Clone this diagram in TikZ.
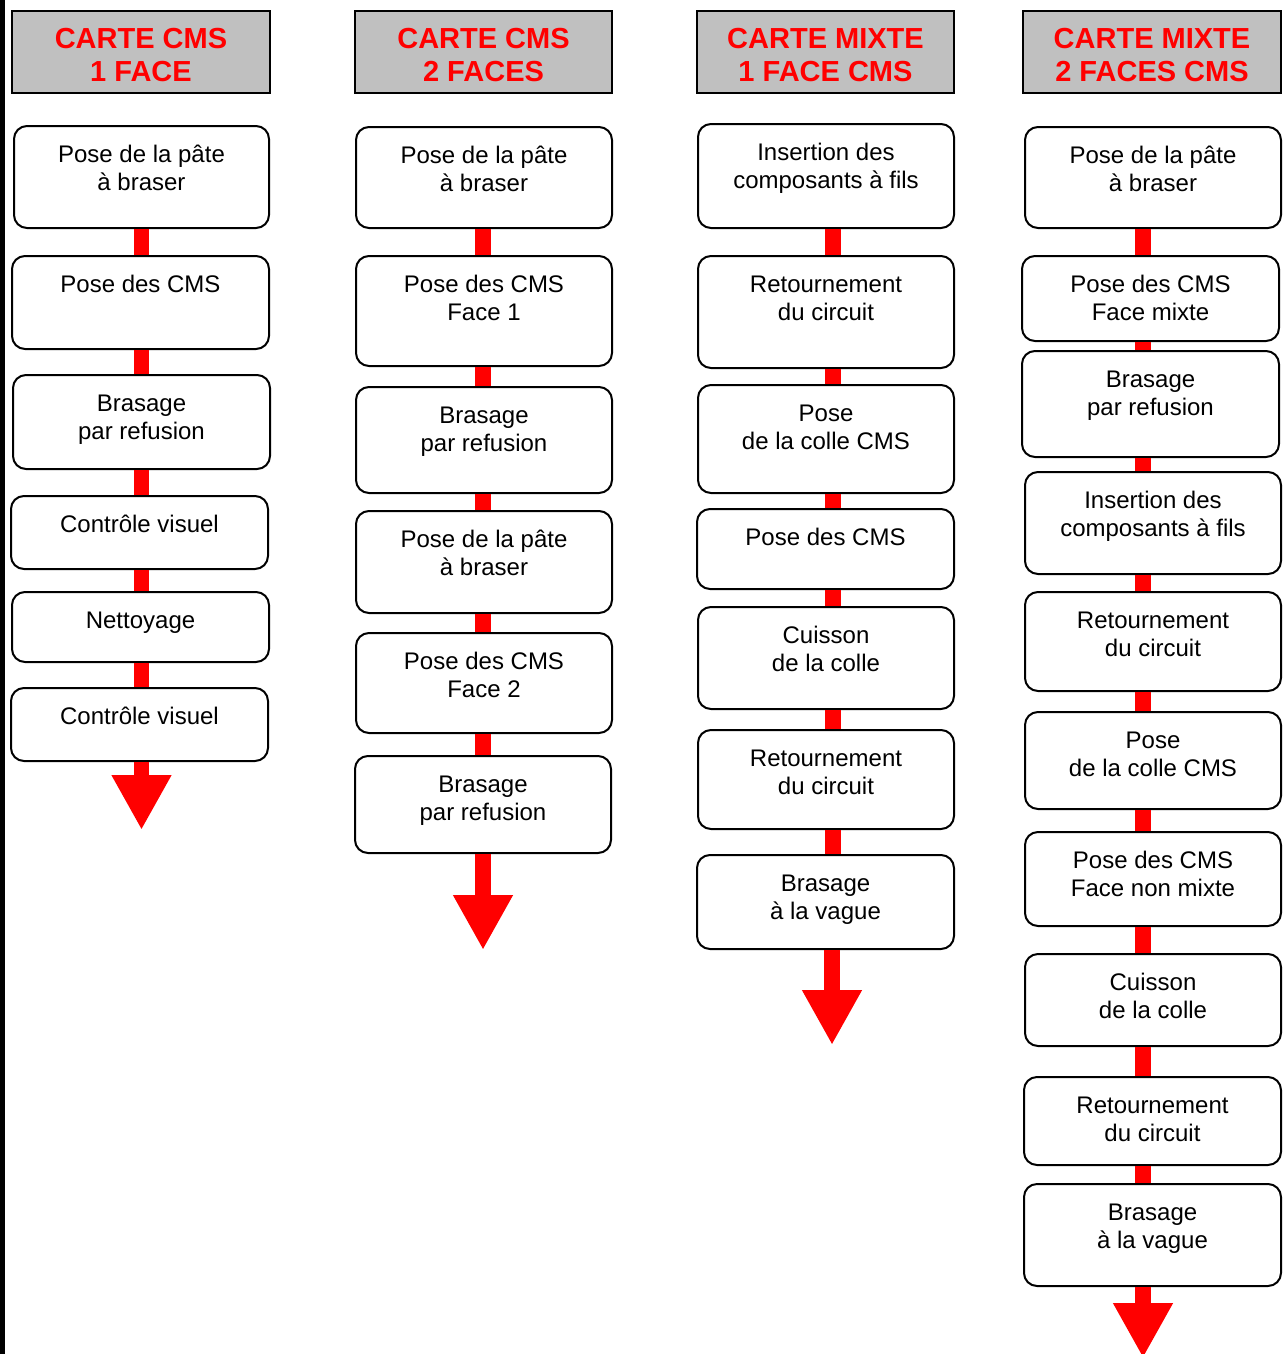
\documentclass[tikz,border=0pt]{standalone}
\usepackage{fontspec}
\setmainfont{Liberation Sans}
\usetikzlibrary{arrows.meta}
\definecolor{titlegray}{RGB}{192,192,192}
\definecolor{flowred}{RGB}{255,0,0}
\tikzset{
  titlebox/.style={draw=black, line width=2pt, fill=titlegray, inner sep=0pt},
  titletext/.style={text=flowred, font=\fontsize{29}{33}\selectfont\bfseries, align=center, inner sep=0pt},
  procbox/.style={draw=black, line width=2pt, fill=white, rounded corners=13pt, inner sep=0pt},
  proctext/.style={anchor=north, inner sep=0pt, align=center, font=\fontsize{24}{28}\selectfont},
  conn/.style={draw=flowred, line width=15.5pt},
  endarrow/.style={conn, -{Triangle[width=56pt,length=55pt]}},
}
\newcommand\flowbox[6]{%
  \node[procbox, minimum width={#4-#2-2}, minimum height={#5-#3-2}] (#1) at ({(#2+#4)/2},{(#3+#5)/2}) {};
  \node[proctext] (#1-t) at ({(#2+#4)/2},{#3+28.5-11.2}) {\strut #6};}
\newcommand\titlebox[6]{%
  \node[titlebox, minimum width={#4-#2-2}, minimum height={#5-#3-2}] (#1) at ({(#2+#4)/2},{(#3+#5)/2}) {};
  \node[titletext] (#1-t) at ({(#2+#4)/2},55.3) {#6};}
\begin{document}
\begin{tikzpicture}[x=1pt,y=-1pt]
\useasboundingbox (0,0) rectangle (1282,1354);
\fill[black] (0,0) rectangle (5,1354);

% titles
\titlebox{t1}{11}{10}{271}{94}{CARTE CMS\\1 FACE}
\titlebox{t2}{354}{10}{613}{94}{CARTE CMS\\2 FACES}
\titlebox{t3}{696}{10}{955}{94}{CARTE MIXTE\\1 FACE CMS}
\titlebox{t4}{1022}{10}{1282}{94}{CARTE MIXTE\\2 FACES CMS}

% connector axes
\coordinate (x1) at (141.5,0);
\coordinate (x2) at (483,0);
\coordinate (x3) at (833,0);
\coordinate (x4) at (1143,0);

% column 1
\flowbox{c1b1}{13}{125}{270}{229}{Pose de la pâte\\à braser}
\flowbox{c1b2}{11}{255}{270}{350}{Pose des CMS}
\flowbox{c1b3}{12}{374}{271}{470}{Brasage\\par refusion}
\flowbox{c1b4}{10}{495}{269}{570}{Contrôle visuel}
\flowbox{c1b5}{11}{591}{270}{663}{Nettoyage}
\flowbox{c1b6}{10}{687}{269}{762}{Contrôle visuel}
\coordinate (c1end) at (141.5,830);

% column 2
\flowbox{c2b1}{355}{126}{613}{229}{Pose de la pâte\\à braser}
\flowbox{c2b2}{355}{255}{613}{367}{Pose des CMS\\Face 1}
\flowbox{c2b3}{355}{386}{613}{494}{Brasage\\par refusion}
\flowbox{c2b4}{355}{510}{613}{614}{Pose de la pâte\\à braser}
\flowbox{c2b5}{355}{632}{613}{734}{Pose des CMS\\Face 2}
\flowbox{c2b6}{354}{755}{612}{854}{Brasage\\par refusion}
\coordinate (c2end) at (483,950);

% column 3
\flowbox{c3b1}{697}{123}{955}{229}{Insertion des\\composants à fils}
\flowbox{c3b2}{697}{255}{955}{369}{Retournement\\du circuit}
\flowbox{c3b3}{697}{384}{955}{494}{Pose\\de la colle CMS}
\flowbox{c3b4}{696}{508}{955}{590}{Pose des CMS}
\flowbox{c3b5}{697}{606}{955}{710}{Cuisson\\de la colle}
\flowbox{c3b6}{697}{729}{955}{830}{Retournement\\du circuit}
\flowbox{c3b7}{696}{854}{955}{950}{Brasage\\à la vague}
\coordinate (c3end) at (832,1045);

% column 4
\flowbox{c4b1}{1024}{126}{1282}{229}{Pose de la pâte\\à braser}
\flowbox{c4b2}{1021}{255}{1280}{342}{Pose des CMS\\Face mixte}
\flowbox{c4b3}{1021}{350}{1280}{458}{Brasage\\par refusion}
\flowbox{c4b4}{1024}{471}{1282}{575}{Insertion des\\composants à fils}
\flowbox{c4b5}{1024}{591}{1282}{692}{Retournement\\du circuit}
\flowbox{c4b6}{1024}{711}{1282}{810}{Pose\\de la colle CMS}
\flowbox{c4b7}{1024}{831}{1282}{927}{Pose des CMS\\Face non mixte}
\flowbox{c4b8}{1024}{953}{1282}{1047}{Cuisson\\de la colle}
\flowbox{c4b9}{1023}{1076}{1282}{1166}{Retournement\\du circuit}
\flowbox{c4b10}{1023}{1183}{1282}{1287}{Brasage\\à la vague}
\coordinate (c4end) at (1143,1358);

% connectors
\foreach \a/\b/\x in {c1b1/c1b2/x1, c1b2/c1b3/x1, c1b3/c1b4/x1, c1b4/c1b5/x1, c1b5/c1b6/x1,
  c2b1/c2b2/x2, c2b2/c2b3/x2, c2b3/c2b4/x2, c2b4/c2b5/x2, c2b5/c2b6/x2,
  c3b1/c3b2/x3, c3b2/c3b3/x3, c3b3/c3b4/x3, c3b4/c3b5/x3, c3b5/c3b6/x3, c3b6/c3b7/x3,
  c4b1/c4b2/x4, c4b2/c4b3/x4, c4b3/c4b4/x4, c4b4/c4b5/x4, c4b5/c4b6/x4, c4b6/c4b7/x4,
  c4b7/c4b8/x4, c4b8/c4b9/x4, c4b9/c4b10/x4}
  \draw[conn] (\a.south -| \x) -- (\b.north -| \x);

% end arrows
\draw[endarrow] (c1b6.south -| c1end) -- (c1end);
\draw[endarrow] (c2b6.south -| c2end) -- (c2end);
\draw[endarrow] (c3b7.south -| c3end) -- (c3end);
\draw[endarrow] (c4b10.south -| c4end) -- (c4end);
\end{tikzpicture}
\end{document}
